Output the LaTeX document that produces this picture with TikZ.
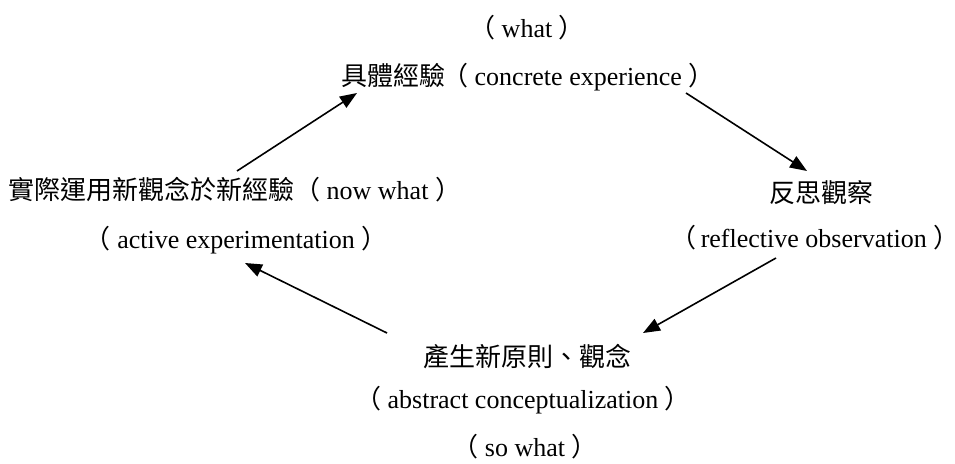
\documentclass[tikz,border=0pt]{standalone}
\usepackage{fontspec}
\setmainfont{Liberation Serif}
\newfontfamily\cjk{Noto Sans CJK TC}
\usetikzlibrary{arrows.meta}
\newcommand{\lp}{{\cjk （}}
\newcommand{\rp}{{\cjk ）}}
\begin{document}
\begin{tikzpicture}[x=1pt,y=-1pt,
  lbl/.style={inner sep=0pt, font=\fontsize{26}{30}\selectfont},
  flow/.style={line width=1.6pt, -{Triangle[length=17pt,width=13pt]}}]
\useasboundingbox (0,0) rectangle (955,463);
% texts
\node[lbl] (what) at (527,28) {\lp\ what\ \rp};
\node[lbl,anchor=west] (ce) at (341,77) {{\cjk 具體經驗}\hspace{-3pt}\lp\ concrete experience\ \rp};
\node[lbl,anchor=west] (ae1) at (8,190) {{\cjk 實際運用新觀念於新經驗}\lp\ now what\ \rp};
\node[lbl] (ae2) at (236,240) {\lp\ active experimentation\ \rp};
\node[lbl] (ro1) at (821,193) {\cjk 反思觀察};
\node[lbl] (ro2) at (815,238) {\lp\hspace{4pt}reflective observation\ \rp\hspace{-18pt}};
\node[lbl] (ac1) at (527,357) {\cjk 產生新原則、觀念};
\node[lbl] (ac2) at (523,400) {\lp\ abstract conceptualization\ \rp};
\node[lbl] (sw) at (525,447) {\lp\ so what\ \rp};
% connector ends
\coordinate (a1s) at (237,171); \coordinate (a1e) at (357,93);
\coordinate (a2s) at (686,93);  \coordinate (a2e) at (807,171);
\coordinate (a3s) at (776,258); \coordinate (a3e) at (643,333);
\coordinate (a4s) at (387,333); \coordinate (a4e) at (245,263);
\draw[flow] (a1s) -- (a1e);
\draw[flow] (a2s) -- (a2e);
\draw[flow] (a3s) -- (a3e);
\draw[flow] (a4s) -- (a4e);
\end{tikzpicture}
\end{document}
